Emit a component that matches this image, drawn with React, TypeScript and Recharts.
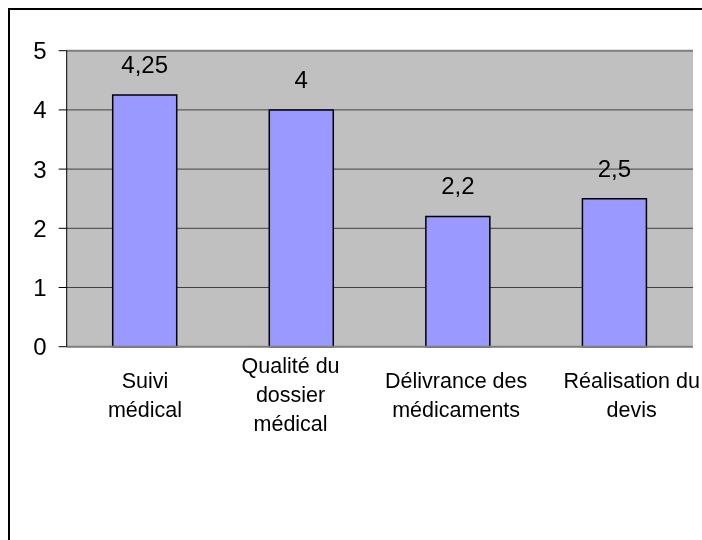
import React from "react";
import {
  BarChart,
  Bar,
  XAxis,
  YAxis,
  CartesianGrid,
  LabelList,
  ReferenceLine,
} from "recharts";

const categories = [
  "Suivi médical",
  "Qualité du dossier médical",
  "Délivrance des médicaments",
  "Réalisation du devis",
];
const categoryLines = [
  ["Suivi", "médical"],
  ["Qualité du", "dossier", "médical"],
  ["Délivrance des", "médicaments"],
  ["Réalisation du", "devis"],
];
const values = [4.25, 4, 2.2, 2.5];
const yTicks = [0, 1, 2, 3, 4, 5];

const data = categories.map((c, i) => ({ name: c, value: values[i] }));

const FONT = "'Liberation Sans', Arial, sans-serif";
const labelShift = [0, -11, -2, 17];
const LINE_H = 29;

const CategoryTick = (props: any) => {
  const { x, y, index } = props;
  const lines = categoryLines[index] || [];
  const mid = y + 55.3;
  const first = mid - ((lines.length - 1) * LINE_H) / 2;
  const cx = x + (labelShift[index] || 0);
  return (
    <g>
      <text
        x={cx}
        y={first}
        textAnchor="middle"
        fontFamily={FONT}
        fontSize={21.5}
        fill="#000"
      >
        {lines.map((l: string, i: number) => (
          <tspan key={i} x={cx} y={first + i * LINE_H}>
            {l}
          </tspan>
        ))}
      </text>
    </g>
  );
};

export default function App() {
  return (
    <div
      style={{
        position: "fixed",
        left: 8,
        top: 8,
        width: 694,
        height: 532,
        boxSizing: "border-box",
        borderLeft: "2px solid #000",
        borderTop: "2px solid #000",
      }}
    >
      <div style={{ position: "absolute", left: -2, top: -2 }}>
        <BarChart
          width={694}
          height={532}
          data={data}
          margin={{ top: 42.7, right: 9, bottom: 133.3, left: 7.7 }}
          barSize={64}
          style={{ overflow: "visible" }}
        >
          <CartesianGrid
            yAxisId="left"
            vertical={false}
            fill="#C0C0C0"
            fillOpacity={1}
            stroke="#404040"
            strokeWidth={1}
          />
          <XAxis
            dataKey="name"
            interval={0}
            tickLine={false}
            tickSize={0}
            tickMargin={0}
            height={60}
            axisLine={{ stroke: "#808080", strokeWidth: 2 }}
            tick={<CategoryTick />}
          />
          <YAxis
            yAxisId="left"
            domain={[0, 5]}
            ticks={yTicks}
            interval={0}
            width={51}
            tickSize={8}
            tickMargin={12}
            axisLine={{ stroke: "#000", strokeWidth: 1 }}
            tickLine={{ stroke: "#000", strokeWidth: 1 }}
            tick={{ fill: "#000", fontSize: 24, fontFamily: FONT }}
          />
          <YAxis
            yAxisId="right"
            orientation="right"
            domain={[0, 5]}
            width={0}
            tick={false}
            tickLine={false}
            axisLine={{ stroke: "#808080", strokeWidth: 2 }}
          />
          <ReferenceLine yAxisId="left" y={5} stroke="#808080" strokeWidth={2} />
          <Bar
            yAxisId="left"
            dataKey="value"
            fill="#9999FF"
            stroke="#000"
            strokeWidth={1.5}
            isAnimationActive={false}
          >
            <LabelList
              dataKey="value"
              position="top"
              offset={22}
              formatter={(v: any) => String(v).replace(".", ",")}
              style={{ fill: "#000", fontSize: 24, fontFamily: FONT }}
            />
          </Bar>
        </BarChart>
      </div>
    </div>
  );
}
